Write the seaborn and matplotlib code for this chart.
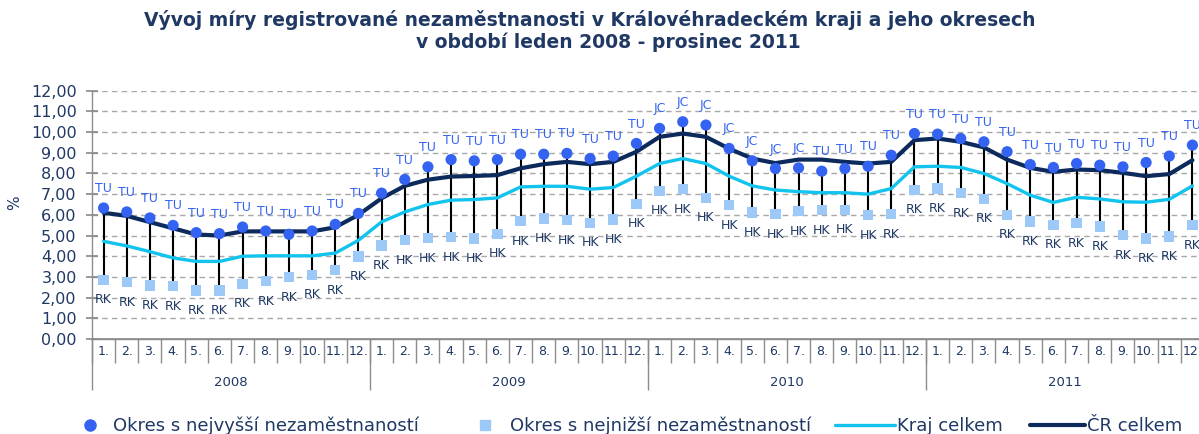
import numpy as np
import pandas as pd
import matplotlib
matplotlib.use("Agg")
import matplotlib.pyplot as plt
import seaborn as sns
from matplotlib.lines import Line2D

# ---------------- data ----------------
years = ["2008", "2009", "2010", "2011"]
month_labels = ["1.", "2.", "3.", "4.", "5.", "6.", "7.", "8.", "9.", "10.", "11.", "12."]

max_district = [6.33, 6.14, 5.85, 5.49, 5.14, 5.09, 5.41, 5.22, 5.06, 5.22, 5.54, 6.07,
                7.05, 7.71, 8.32, 8.67, 8.61, 8.67, 8.93, 8.93, 8.97, 8.72, 8.84, 9.45,
                10.18, 10.50, 10.34, 9.21, 8.61, 8.24, 8.27, 8.11, 8.24, 8.35, 8.88, 9.93,
                9.90, 9.69, 9.53, 9.05, 8.43, 8.29, 8.48, 8.40, 8.32, 8.53, 8.84, 9.37]
min_district = [2.86, 2.75, 2.59, 2.56, 2.35, 2.35, 2.67, 2.80, 2.99, 3.10, 3.32, 3.98,
                4.52, 4.78, 4.88, 4.93, 4.85, 5.09, 5.70, 5.82, 5.74, 5.62, 5.78, 6.54,
                7.16, 7.24, 6.83, 6.46, 6.11, 6.03, 6.19, 6.22, 6.25, 5.98, 6.03, 7.21,
                7.27, 7.05, 6.78, 6.00, 5.68, 5.52, 5.61, 5.44, 5.03, 4.86, 4.95, 5.50]
kraj = [4.72, 4.50, 4.22, 3.92, 3.75, 3.75, 4.00, 4.02, 4.02, 4.02, 4.15, 4.77,
        5.66, 6.14, 6.50, 6.71, 6.74, 6.82, 7.35, 7.38, 7.38, 7.24, 7.32, 7.87,
        8.48, 8.72, 8.48, 7.87, 7.40, 7.20, 7.12, 7.07, 7.07, 7.00, 7.27, 8.32,
        8.35, 8.29, 8.00, 7.51, 6.95, 6.60, 6.85, 6.77, 6.63, 6.61, 6.75, 7.40]
cr = [6.10, 5.95, 5.65, 5.35, 5.05, 5.00, 5.20, 5.20, 5.20, 5.20, 5.40, 6.00,
      6.80, 7.40, 7.70, 7.85, 7.88, 7.92, 8.25, 8.45, 8.56, 8.45, 8.56, 9.05,
      9.77, 9.93, 9.77, 9.20, 8.72, 8.50, 8.67, 8.67, 8.56, 8.48, 8.56, 9.61,
      9.69, 9.53, 9.26, 8.67, 8.27, 8.08, 8.19, 8.16, 8.03, 7.87, 7.97, 8.64]
max_labels = ["TU"] * 12 + ["TU"] * 12 + ["JC"] * 7 + ["TU"] * 5 + ["TU"] * 12
min_labels = ["RK"] * 12 + ["RK"] + ["HK"] * 11 + ["HK"] * 10 + ["RK", "RK"] + ["RK"] * 12

legend_labels = ["Okres s nejvyšší nezaměstnaností", "Okres s nejnižší nezaměstnaností",
                 "Kraj celkem", "ČR celkem"]
title_lines = ["Vývoj míry registrované nezaměstnanosti v Královéhradeckém kraji a jeho okresech",
               "v období leden 2008 - prosinec 2011"]

# ---------------- style ----------------
MAXC = "#3463F2"
MINC = "#9CC9F7"
KRAJC = "#12C3EE"
CRC = "#0C2A5B"
TXT = "#1F3864"
GRAY = "#8C8C8C"

sns.set_theme(style="white")
plt.rcParams["font.family"] = ["DejaVu Sans"]

n = len(max_district)
df = pd.DataFrame({
    "idx": np.arange(n),
    "max": max_district,
    "min": min_district,
    "kraj": kraj,
    "cr": cr,
})

W, H = 1199, 434
fig = plt.figure(figsize=(W / 100, H / 100), dpi=100)
ax = fig.add_axes([92 / W, 95 / H, 1112 / W, 248.3 / H])

ax.vlines(df["idx"], df["min"], df["max"], color="black", lw=1.5, zorder=2)
sns.lineplot(data=df, x="idx", y="kraj", color=KRAJC, lw=2.4, ax=ax, zorder=3)
sns.lineplot(data=df, x="idx", y="cr", color=CRC, lw=3.0, ax=ax, zorder=4)
sns.scatterplot(data=df, x="idx", y="max", marker="o", s=65, color=MAXC,
                edgecolor="none", ax=ax, zorder=5)
sns.scatterplot(data=df, x="idx", y="min", marker="s", s=55, color=MINC,
                edgecolor="none", ax=ax, zorder=5)

for i in range(n):
    ax.annotate(max_labels[i], (i, max_district[i]), xytext=(0, 14), textcoords="offset points",
                ha="center", va="center", fontsize=9, color=MAXC, zorder=6)
    ax.annotate(min_labels[i], (i, min_district[i]), xytext=(0, -14.5), textcoords="offset points",
                ha="center", va="center", fontsize=9, color=TXT, zorder=6)

ax.set_xlim(-0.5, n - 0.5)
ax.set_ylim(0, 12)
ax.set_xlabel("")
ax.set_ylabel("")

# y axis
yt = np.arange(0, 13, 1)
ax.set_yticks(yt, labels=[f"{v:.2f}".replace(".", ",") for v in yt])
ax.tick_params(axis="y", which="major", left=True, direction="inout", length=8,
               color=GRAY, labelsize=11.5, labelcolor=TXT, pad=7)
ax.yaxis.grid(True, ls=(0, (4, 3)), color="#A8A8A8", lw=1)
ax.xaxis.grid(False)

# x axis: month separators and labels
all_months = month_labels * len(years)
ax.set_xticks(np.arange(-0.5, n, 1), labels=[""] * (n + 1))
ax.set_xticks(np.arange(n), labels=all_months, minor=True)
ax.tick_params(axis="x", which="major", bottom=True, direction="out", length=17,
               color=GRAY, width=1)
ax.tick_params(axis="x", which="minor", bottom=True, length=0, pad=4,
               labelsize=9, labelcolor=TXT)

# year level
sec = ax.secondary_xaxis("bottom")
sec.set_xticks(np.arange(-0.5, n, 12), labels=[""] * (len(years) + 1))
sec.set_xticks(np.arange(5.5, n, 12), labels=years, minor=True)
sec.tick_params(axis="x", which="major", bottom=True, direction="out", length=37,
                color=GRAY, width=1)
sec.tick_params(axis="x", which="minor", bottom=True, length=0, pad=27,
                labelsize=9.5, labelcolor=TXT)
sec.spines["bottom"].set_color(GRAY)

for s in ["top", "right"]:
    ax.spines[s].set_visible(False)
for s in ["left", "bottom"]:
    ax.spines[s].set_color(GRAY)
    ax.spines[s].set_linewidth(1)

fig.text(15 / W, 1 - 203 / H, "%", rotation=90, ha="center", va="center",
         fontsize=11, color=TXT)

# title
fig.text(590 / W, 1 - 20 / H, title_lines[0], ha="center", va="center",
         fontsize=13.5, fontweight="bold", color=TXT)
fig.text(608 / W, 1 - 42 / H, title_lines[1], ha="center", va="center",
         fontsize=13.5, fontweight="bold", color=TXT)

# legend (one entry per legend to mimic spacing)
handles = [
    Line2D([], [], ls="none", marker="o", markersize=8, color=MAXC),
    Line2D([], [], ls="none", marker="s", markersize=7.5, color=MINC),
    Line2D([], [], color=KRAJC, lw=2.4),
    Line2D([], [], color=CRC, lw=3.0),
]
fs = 13
em = fs * 100 / 72
specs = [  # left x px, handle length px, text start px
    (82, 16, 113),
    (477, 16, 510),
    (835, 60, 897),
    (1030, 55, 1087),
]
for h, lab, (x0, hl, tx) in zip(handles, legend_labels, specs):
    leg = fig.legend([h], [lab], loc="center left", bbox_to_anchor=(x0 / W, 1 - 426 / H),
                     frameon=False, fontsize=fs, handlelength=hl / em,
                     handletextpad=(tx - x0 - hl) / em, borderpad=0, borderaxespad=0,
                     labelcolor=TXT)

fig.savefig("out.png", dpi=100)
